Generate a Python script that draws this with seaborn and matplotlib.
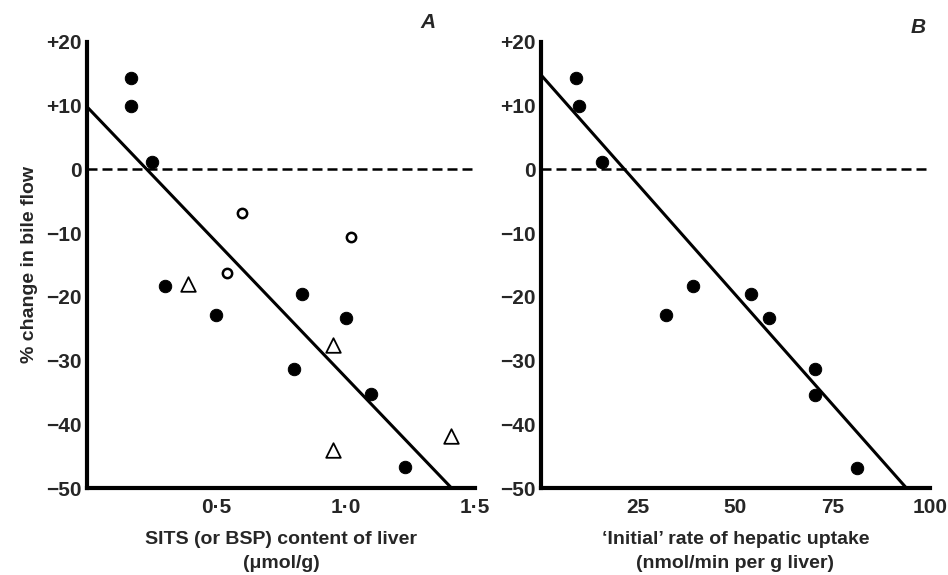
import numpy as np
import pandas as pd
import matplotlib
matplotlib.use('Agg')
import matplotlib.pyplot as plt
import seaborn as sns

# Panel A: SITS (or BSP) content of liver vs % change in bile flow
a_filled_x = [0.17, 0.17, 0.25, 0.30, 0.50, 0.80, 0.83, 1.00, 1.10, 1.23]
a_filled_y = [14.3, 10.0, 1.1, -18.3, -22.8, -31.3, -19.5, -23.3, -35.2, -46.7]
a_open_x = [0.60, 0.54, 1.02]
a_open_y = [-6.8, -16.2, -10.6]
a_tri_x = [0.39, 0.95, 0.95, 1.41]
a_tri_y = [-18.0, -27.5, -44.0, -41.8]
a_line_x = [0.0, 1.41]
a_line_y = [9.8, -50.0]

# Panel B: 'Initial' rate of hepatic uptake vs % change in bile flow
b_x = [9.0, 9.8, 15.7, 32.1, 39.2, 53.9, 58.7, 70.6, 70.6, 81.4]
b_y = [14.3, 10.0, 1.2, -22.9, -18.3, -19.6, -23.4, -31.4, -35.4, -46.9]
b_line_x = [0.0, 94.0]
b_line_y = [14.8, -50.0]

y_ticks = [20, 10, 0, -10, -20, -30, -40, -50]
y_labels = ['+20', '+10', '0', '\u221210', '\u221220', '\u221230', '\u221240', '\u221250']
a_ticks = [0.5, 1.0, 1.5]
a_labels = ['0\u00b75', '1\u00b70', '1\u00b75']
b_ticks = [25, 50, 75, 100]
b_labels = ['25', '50', '75', '100']

sns.set_theme(style='white')
plt.rcParams['font.family'] = ['Liberation Sans', 'DejaVu Sans']

fig = plt.figure(figsize=(9.48, 5.75), dpi=100)
ax_a = fig.add_axes([0.0918, 0.1513, 0.409, 0.776])
ax_b = fig.add_axes([0.5707, 0.1513, 0.410, 0.776])

def style_axis(ax):
    for side in ['top', 'right']:
        ax.spines[side].set_visible(False)
    for side in ['left', 'bottom']:
        ax.spines[side].set_linewidth(3)
        ax.spines[side].set_color('black')
    ax.axhline(0, color='black', lw=1.8, ls=(0, (4, 2)), zorder=1)
    ax.set_ylim(-50, 20)
    ax.set_yticks(y_ticks)
    ax.set_yticklabels(y_labels, fontsize=15, fontweight='bold')
    ax.tick_params(direction='in', length=8, width=2.5, color='black', pad=4)
    ax.grid(False)

# panel A
sns.lineplot(x=a_line_x, y=a_line_y, ax=ax_a, color='black', lw=2.2)
sns.scatterplot(x=a_filled_x, y=a_filled_y, ax=ax_a, s=80, color='black',
                edgecolor='black', zorder=3)
sns.scatterplot(x=a_open_x, y=a_open_y, ax=ax_a, s=45, facecolor='white',
                edgecolor='black', linewidth=1.8, zorder=3)
sns.scatterplot(x=a_tri_x, y=a_tri_y, ax=ax_a, s=110, marker='^', facecolor='white',
                edgecolor='black', linewidth=1.3, zorder=3)
style_axis(ax_a)
ax_a.set_xlim(0, 1.5)
ax_a.set_xticks(a_ticks)
ax_a.set_xticklabels(a_labels, fontsize=15, fontweight='bold')
ax_a.tick_params(axis='x', pad=7)
ax_a.set_xlabel('SITS (or BSP) content of liver\n(\u03bcmol/g)', fontsize=14,
                fontweight='bold', labelpad=10, linespacing=1.55)
ax_a.set_ylabel('% change in bile flow', fontsize=14, fontweight='bold', labelpad=6)
ax_a.text(1.32, 23.0, 'A', fontsize=15, fontweight='bold', style='italic',
          ha='center', va='center')

# panel B
sns.lineplot(x=b_line_x, y=b_line_y, ax=ax_b, color='black', lw=2.2)
sns.scatterplot(x=b_x, y=b_y, ax=ax_b, s=80, color='black', edgecolor='black', zorder=3)
style_axis(ax_b)
ax_b.set_xlim(0, 100)
ax_b.set_xticks(b_ticks)
ax_b.set_xticklabels(b_labels, fontsize=15, fontweight='bold')
ax_b.tick_params(axis='x', pad=7)
ax_b.set_xlabel('\u2018Initial\u2019 rate of hepatic uptake\n(nmol/min per g liver)',
                fontsize=14, fontweight='bold', labelpad=10, linespacing=1.55)
ax_b.set_ylabel('')
ax_b.text(97, 22.3, 'B', fontsize=15, fontweight='bold', style='italic',
          ha='center', va='center')

for ax in (ax_a, ax_b):
    for coll in ax.collections:
        coll.set_clip_on(False)

fig.savefig('out.png', dpi=100, facecolor='white')
plt.close(fig)
